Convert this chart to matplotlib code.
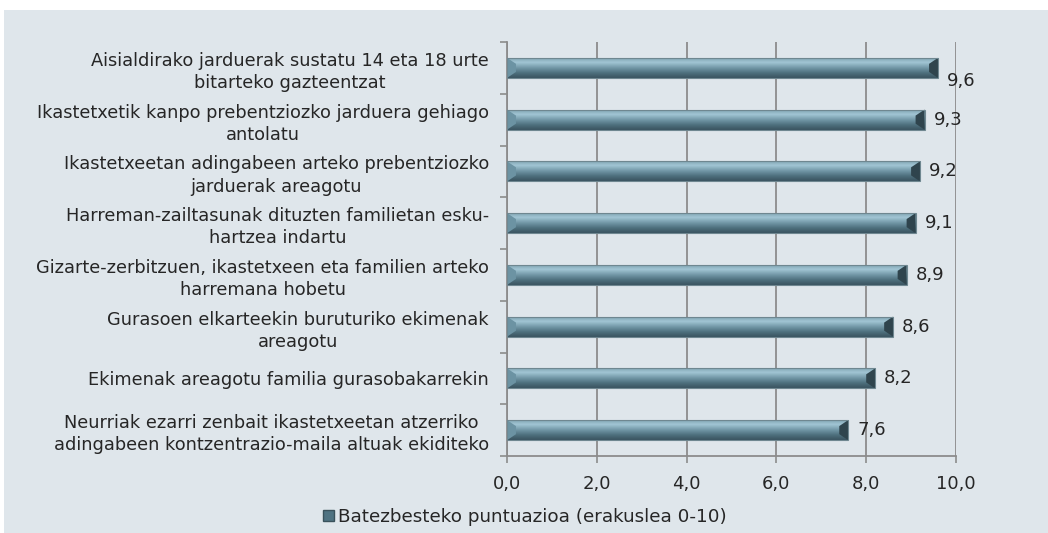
import matplotlib
matplotlib.use("Agg")
import matplotlib.pyplot as plt
import numpy as np
from matplotlib.patches import Rectangle, Polygon
from matplotlib.colors import LinearSegmentedColormap

categories = [
    "Aisialdirako jarduerak sustatu 14 eta 18 urte\nbitarteko gazteentzat",
    "Ikastetxetik kanpo prebentziozko jarduera gehiago\nantolatu",
    "Ikastetxeetan adingabeen arteko prebentziozko\njarduerak areagotu",
    "Harreman-zailtasunak dituzten familietan esku-\nhartzea indartu",
    "Gizarte-zerbitzuen, ikastetxeen eta familien arteko\nharremana hobetu",
    "Gurasoen elkarteekin buruturiko ekimenak\nareagotu",
    "Ekimenak areagotu familia gurasobakarrekin",
    "Neurriak ezarri zenbait ikastetxeetan atzerriko\nadingabeen kontzentrazio-maila altuak ekiditeko",
]
values = [9.6, 9.3, 9.2, 9.1, 8.9, 8.6, 8.2, 7.6]
series_name = "Batezbesteko puntuazioa (erakuslea 0-10)"
xticks = [0, 2, 4, 6, 8, 10]

plt.rcParams["font.family"] = ["DejaVu Sans"]
bg = "#dfe6eb"
txt = "#262626"
bar_cmap = LinearSegmentedColormap.from_list(
    "bevel", ["#7a9dac", "#a2c6d4", "#7499a9", "#4f717f", "#3a5460"])

fig = plt.figure(figsize=(10.48, 5.33), dpi=100)
fig.patch.set_facecolor("white")
fig.add_artist(Rectangle((4 / 1048, 0), 1, 1 - 10 / 533, transform=fig.transFigure,
                         facecolor=bg, edgecolor="none", zorder=-10))

ax = fig.add_axes([507 / 1048, 77 / 533, 449 / 1048, 414 / 533])
ax.set_facecolor("none")

n = len(values)
ypos = np.arange(n)[::-1]
h = 0.39

grad = np.linspace(0, 1, 64).reshape(-1, 1)
for y, v in zip(ypos, values):
    ax.barh(y, v, height=h, color="#5f8797", edgecolor="none", zorder=3)
    im = ax.imshow(grad, cmap=bar_cmap, aspect="auto",
                   extent=(0, v, y - h / 2, y + h / 2), origin="upper", zorder=3.5)
    clip = Rectangle((0, y - h / 2), v, h, transform=ax.transData)
    im.set_clip_path(clip)
    bw = 0.2
    bh = h * 0.3
    # right bevel (dark) and left bevel (light)
    ax.add_patch(Polygon([(v, y - h / 2), (v, y + h / 2), (v - bw, y + h / 2 - bh),
                          (v - bw, y - h / 2 + bh)], closed=True,
                         facecolor="#2f444d", edgecolor="none", zorder=4))
    ax.add_patch(Polygon([(0, y - h / 2), (0, y + h / 2), (bw, y + h / 2 - bh),
                          (bw, y - h / 2 + bh)], closed=True,
                         facecolor="#6c93a3", edgecolor="none", zorder=4))
    ax.add_patch(Rectangle((0, y - h / 2), v, h, facecolor="none",
                           edgecolor="#6f8790", linewidth=0.8, zorder=5))
    dy = 0.25 if v > 9.5 else 0.0
    ax.text(v + 0.2, y - dy, f"{v:.1f}".replace(".", ","), va="center", ha="left",
            fontsize=13, color=txt, zorder=6)

ax.set_xlim(0, 10)
ax.set_ylim(-0.5, n - 0.5)
ax.set_xticks(xticks)
ax.set_xticklabels([f"{t:.1f}".replace(".", ",") for t in xticks], fontsize=13, color=txt)
ax.set_yticks(ypos)
ax.set_yticklabels(categories, fontsize=12.8, color=txt, multialignment="center",
                   linespacing=1.3)
ax.set_yticks(np.arange(-0.5, n, 1.0), minor=True)
ax.tick_params(axis="y", which="major", length=0, pad=13)
ax.tick_params(axis="y", which="minor", length=5, color="#8c8c8c", width=1.2)
ax.tick_params(axis="x", length=5, color="#8c8c8c", width=1.2, pad=9)
ax.grid(axis="x", color="#8c8c8c", linewidth=1.3, zorder=0)
ax.set_axisbelow(True)
for s in ["top", "right"]:
    ax.spines[s].set_visible(False)
for s in ["left", "bottom"]:
    ax.spines[s].set_color("#8c8c8c")
    ax.spines[s].set_linewidth(1.3)

handle = Rectangle((0, 0), 1, 1, facecolor="#4f7382", edgecolor="#3a525c")
leg = fig.legend([handle], [series_name], loc="center", bbox_to_anchor=(525 / 1048, 1 - 517 / 533),
                 frameon=False, fontsize=13.2, handlelength=0.6, handleheight=0.6,
                 handletextpad=0.2, labelcolor=txt)

fig.savefig("out.png", dpi=100, facecolor=fig.get_facecolor())
